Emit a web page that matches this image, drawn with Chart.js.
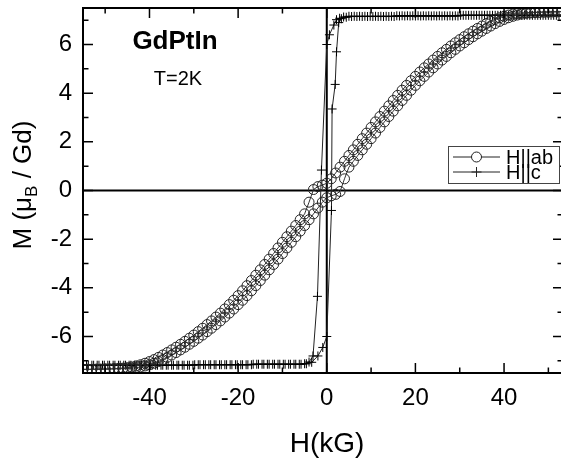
<!DOCTYPE html>
<html>
<head>
<meta charset="utf-8">
<script src="https://cdn.jsdelivr.net/npm/chart.js@4.4.0/dist/chart.umd.min.js"></script>
<style>
  html, body { margin: 0; padding: 0; background: #fff; overflow: hidden; }
  canvas { display: block; }
</style>
</head>
<body>
<canvas id="loop" width="563" height="459"></canvas>
<script>
// GdPtIn magnetisation loops at T = 2 K (field in kG, moment in muB per Gd)

// H || ab, field swept down from +53 kG to -55 kG
const fieldAbDown = [53,52,51,50,49,48,47,46,45,44,43,42,41,40,39,38,37,36,35,34,33,32,31,30,29,28,27,26,25,24,23,22,21,20,19,18,17,16,15,14,13,12,11,10,9,8,7,6,5,4,3,2,1,0,-1,-2,-3,-4,-5,-6,-7,-8,-9,-10,-11,-12,-13,-14,-15,-16,-17,-18,-19,-20,-21,-22,-23,-24,-25,-26,-27,-28,-29,-30,-31,-32,-33,-34,-35,-36,-37,-38,-39,-40,-41,-42,-43,-44,-45,-46,-47,-48,-49,-50,-51,-52,-53,-54,-55];
const momentAbDown = [7.35,7.35,7.35,7.34,7.34,7.33,7.33,7.32,7.31,7.30,7.28,7.25,7.21,7.16,7.10,7.03,6.95,6.86,6.76,6.66,6.55,6.44,6.32,6.20,6.07,5.94,5.80,5.66,5.51,5.36,5.20,5.04,4.87,4.69,4.51,4.32,4.12,3.91,3.70,3.48,3.26,3.04,2.82,2.59,2.36,2.13,1.90,1.67,1.44,1.20,0.96,0.72,0.48,0.30,0.22,0.16,0.04,-0.48,-0.96,-1.20,-1.44,-1.67,-1.90,-2.13,-2.36,-2.59,-2.82,-3.04,-3.26,-3.48,-3.70,-3.91,-4.12,-4.32,-4.51,-4.69,-4.87,-5.04,-5.20,-5.36,-5.51,-5.66,-5.80,-5.94,-6.07,-6.20,-6.32,-6.44,-6.55,-6.66,-6.76,-6.86,-6.95,-7.03,-7.10,-7.16,-7.21,-7.25,-7.28,-7.30,-7.31,-7.32,-7.33,-7.33,-7.34,-7.34,-7.35,-7.35,-7.35];

// H || ab, field swept back up from -55 kG to +53 kG
const fieldAbUp = [-55,-54,-53,-52,-51,-50,-49,-48,-47,-46,-45,-44,-43,-42,-41,-40,-39,-38,-37,-36,-35,-34,-33,-32,-31,-30,-29,-28,-27,-26,-25,-24,-23,-22,-21,-20,-19,-18,-17,-16,-15,-14,-13,-12,-11,-10,-9,-8,-7,-6,-5,-4,-3,-2,-1,0,1,2,3,4,5,6,7,8,9,10,11,12,13,14,15,16,17,18,19,20,21,22,23,24,25,26,27,28,29,30,31,32,33,34,35,36,37,38,39,40,41,42,43,44,45,46,47,48,49,50,51,52,53];
const momentAbUp = [-7.35,-7.35,-7.35,-7.35,-7.35,-7.34,-7.34,-7.33,-7.33,-7.32,-7.31,-7.30,-7.28,-7.25,-7.21,-7.16,-7.10,-7.03,-6.95,-6.86,-6.76,-6.66,-6.55,-6.44,-6.32,-6.20,-6.07,-5.94,-5.80,-5.66,-5.51,-5.36,-5.20,-5.04,-4.87,-4.69,-4.51,-4.32,-4.12,-3.91,-3.70,-3.48,-3.26,-3.04,-2.82,-2.59,-2.36,-2.13,-1.90,-1.67,-1.44,-1.20,-0.96,-0.72,-0.48,-0.30,-0.22,-0.16,-0.04,0.48,0.96,1.20,1.44,1.67,1.90,2.13,2.36,2.59,2.82,3.04,3.26,3.48,3.70,3.91,4.12,4.32,4.51,4.69,4.87,5.04,5.20,5.36,5.51,5.66,5.80,5.94,6.07,6.20,6.32,6.44,6.55,6.66,6.76,6.86,6.95,7.03,7.10,7.16,7.21,7.25,7.28,7.30,7.31,7.32,7.33,7.33,7.34,7.34,7.35];

// H || c, field swept down
const fieldCDown = [53.0,51.8,50.6,49.4,48.2,47.0,45.8,44.6,43.4,42.2,41.0,39.8,38.6,37.4,36.2,35.0,33.8,32.6,31.4,30.2,29.0,27.8,26.6,25.4,24.2,23.0,21.8,20.6,19.4,18.2,17.0,15.8,14.6,13.4,12.2,11.0,9.8,8.6,7.4,6.2,5.0,3.8,2.9,2.2,1.6,0.6,0.0,-1.2,-2.1,-3.1,-4.0,-5.0,-6.2,-7.4,-8.6,-9.8,-11.0,-12.2,-13.4,-14.6,-15.8,-17.0,-18.2,-19.4,-20.6,-21.8,-23.0,-24.2,-25.4,-26.6,-27.8,-29.0,-30.2,-31.4,-32.6,-33.8,-35.0,-36.2,-37.4,-38.6,-39.8,-41.0,-42.2,-43.4,-44.6,-45.8,-47.0,-48.2,-49.4,-50.6,-51.8,-53.0,-54.2,-55.4];
const momentCDown = [7.20,7.20,7.20,7.20,7.20,7.20,7.20,7.20,7.20,7.20,7.20,7.20,7.20,7.20,7.20,7.20,7.20,7.20,7.20,7.20,7.18,7.18,7.18,7.18,7.18,7.18,7.18,7.18,7.18,7.18,7.18,7.18,7.16,7.16,7.16,7.16,7.16,7.16,7.16,7.16,7.16,7.13,7.08,7.02,6.80,6.40,6.00,0.84,-4.35,-6.80,-7.05,-7.12,-7.14,-7.14,-7.14,-7.14,-7.14,-7.14,-7.14,-7.14,-7.14,-7.16,-7.16,-7.16,-7.16,-7.16,-7.16,-7.16,-7.16,-7.16,-7.16,-7.16,-7.18,-7.18,-7.18,-7.18,-7.18,-7.18,-7.18,-7.18,-7.18,-7.18,-7.18,-7.18,-7.18,-7.18,-7.18,-7.18,-7.18,-7.18,-7.18,-7.18,-7.18,-7.18];

// H || c, field swept up
const fieldCUp = [-55.0,-53.8,-52.6,-51.4,-50.2,-49.0,-47.8,-46.6,-45.4,-44.2,-43.0,-41.8,-40.6,-39.4,-38.2,-37.0,-35.8,-34.6,-33.4,-32.2,-31.0,-29.8,-28.6,-27.4,-26.2,-25.0,-23.8,-22.6,-21.4,-20.2,-19.0,-17.8,-16.6,-15.4,-14.2,-13.0,-11.8,-10.6,-9.4,-8.2,-7.0,-5.8,-4.6,-3.4,-2.0,-0.9,0.0,1.06,1.2,1.9,2.2,2.7,3.3,4.4,5.6,6.8,8.0,9.2,10.4,11.6,12.8,14.0,15.2,16.4,17.6,18.8,20.0,21.2,22.4,23.6,24.8,26.0,27.2,28.4,29.6,30.8,32.0,33.2,34.4,35.6,36.8,38.0,39.2,40.4,41.6,42.8,44.0,45.2,46.4,47.6,48.8,50.0,51.2,52.4,53.6];
const momentCUp = [-7.18,-7.18,-7.18,-7.18,-7.18,-7.18,-7.18,-7.18,-7.18,-7.18,-7.18,-7.18,-7.18,-7.18,-7.18,-7.18,-7.18,-7.18,-7.18,-7.18,-7.18,-7.16,-7.16,-7.16,-7.16,-7.16,-7.16,-7.16,-7.16,-7.16,-7.16,-7.16,-7.14,-7.14,-7.14,-7.14,-7.14,-7.14,-7.14,-7.14,-7.14,-7.14,-7.12,-7.06,-6.80,-6.45,-6.00,-0.82,3.35,4.36,5.70,6.90,7.06,7.12,7.15,7.15,7.15,7.15,7.15,7.15,7.15,7.15,7.15,7.17,7.17,7.17,7.17,7.17,7.17,7.17,7.17,7.17,7.17,7.17,7.17,7.20,7.20,7.20,7.20,7.20,7.20,7.20,7.20,7.20,7.20,7.20,7.20,7.20,7.20,7.20,7.20,7.20,7.20,7.20,7.20];

// axis ranges and tick positions
const fieldRange = [-55, 53.3];
const momentRange = [-7.5, 7.5];
const fieldMajorTicks = [-40, -20, 0, 20, 40];
const fieldMinorTicks = [-50, -30, -10, 10, 30, 50];
const momentMajorTicks = [-6, -4, -2, 0, 2, 4, 6];
const momentMinorTicks = [-7, -5, -3, -1, 1, 3, 5, 7];

const seriesLabels = ['H||ab', 'H||c'];
const sampleName = 'GdPtIn';
const temperatureLabel = 'T=2K';
const xTitle = 'H(kG)';

const FONT = '"Liberation Sans", Arial, Helvetica, sans-serif';

function pairs(xs, ys) { return xs.map((v, i) => ({ x: v, y: ys[i] })); }

// Frame, zero lines, inward ticks, titles, annotation and legend
const decorations = {
  id: 'decorations',
  beforeDatasetsDraw(chart) {
    const { ctx, chartArea: a, scales: { x, y } } = chart;
    ctx.save();
    ctx.strokeStyle = '#000';
    ctx.lineWidth = 2;
    const x0 = x.getPixelForValue(0), y0 = y.getPixelForValue(0);
    ctx.beginPath();
    ctx.moveTo(a.left, y0); ctx.lineTo(a.right, y0);
    ctx.moveTo(x0, a.top); ctx.lineTo(x0, a.bottom);
    ctx.stroke();
    ctx.restore();
  },
  afterDatasetsDraw(chart) {
    const { ctx, chartArea: a, scales: { x, y } } = chart;
    ctx.save();
    ctx.strokeStyle = '#000';
    ctx.lineWidth = 2;
    ctx.strokeRect(a.left, a.top, a.right - a.left, a.bottom - a.top);

    ctx.lineWidth = 1.5;
    ctx.beginPath();
    const xt = (list, len) => list.forEach(v => {
      const p = x.getPixelForValue(v);
      ctx.moveTo(p, a.bottom); ctx.lineTo(p, a.bottom - len);
      ctx.moveTo(p, a.top); ctx.lineTo(p, a.top + len);
    });
    const yt = (list, len) => list.forEach(v => {
      const p = y.getPixelForValue(v);
      ctx.moveTo(a.left, p); ctx.lineTo(a.left + len, p);
      ctx.moveTo(a.right, p); ctx.lineTo(a.right - len, p);
    });
    xt(fieldMajorTicks, 10); xt(fieldMinorTicks, 5.5);
    yt(momentMajorTicks, 10); yt(momentMinorTicks, 5.5);
    ctx.stroke();

    ctx.fillStyle = '#000';
    // sample name and temperature
    ctx.textAlign = 'center';
    ctx.textBaseline = 'alphabetic';
    ctx.font = 'bold 26px ' + FONT;
    ctx.fillText(sampleName, 175, 49);
    ctx.font = '20px ' + FONT;
    ctx.fillText(temperatureLabel, 178, 85);

    // x axis title
    ctx.font = '28px ' + FONT;
    ctx.fillText(xTitle, 327, 452);

    // y axis title with subscript B
    ctx.save();
    ctx.translate(31, 185);
    ctx.rotate(-Math.PI / 2);
    const big = '26px ' + FONT, small = '17px ' + FONT;
    const parts = [['M (\u03bc', big, 0], ['B', small, 6], [' / Gd)', big, 0]];
    let total = 0;
    parts.forEach(p => { ctx.font = p[1]; total += ctx.measureText(p[0]).width; });
    let cx = -total / 2;
    ctx.textAlign = 'left';
    parts.forEach(p => {
      ctx.font = p[1];
      ctx.fillText(p[0], cx, p[2]);
      cx += ctx.measureText(p[0]).width;
    });
    ctx.restore();

    // legend box
    const lx = 448, ly = 146, lw = 111, lh = 37;
    ctx.fillStyle = '#fff';
    ctx.fillRect(lx, ly, lw, lh);
    ctx.strokeStyle = '#444';
    ctx.lineWidth = 1;
    ctx.strokeRect(lx + 0.5, ly + 0.5, lw, lh);
    const rows = [ly + 11, ly + 26];
    ctx.strokeStyle = '#222';
    rows.forEach((ry, i) => {
      ctx.beginPath();
      ctx.moveTo(453, ry); ctx.lineTo(500, ry);
      ctx.stroke();
      ctx.beginPath();
      if (i === 0) {
        ctx.fillStyle = '#fff';
        ctx.arc(476.5, ry, 5, 0, Math.PI * 2);
        ctx.fill();
        ctx.stroke();
      } else {
        ctx.moveTo(471.5, ry); ctx.lineTo(481.5, ry);
        ctx.moveTo(476.5, ry - 5); ctx.lineTo(476.5, ry + 5);
        ctx.stroke();
      }
    });
    ctx.fillStyle = '#000';
    ctx.font = '20px ' + FONT;
    ctx.textAlign = 'left';
    ctx.textBaseline = 'middle';
    ctx.fillText(seriesLabels[0], 506, rows[0] + 1);
    ctx.fillText(seriesLabels[1], 506, rows[1] + 1);
    ctx.restore();
  }
};

new Chart(document.getElementById('loop'), {
  type: 'scatter',
  data: {
    datasets: [
      {
        label: seriesLabels[0],
        data: pairs(fieldAbDown, momentAbDown).concat(pairs(fieldAbUp, momentAbUp)),
        showLine: true,
        borderColor: '#333',
        borderWidth: 1,
        pointStyle: 'circle',
        pointRadius: 5,
        pointBorderWidth: 1,
        pointBorderColor: '#222',
        pointBackgroundColor: 'rgba(255,255,255,0)'
      },
      {
        label: seriesLabels[1],
        data: pairs(fieldCDown, momentCDown).concat(pairs(fieldCUp, momentCUp)),
        showLine: true,
        borderColor: '#222',
        borderWidth: 1,
        pointStyle: 'cross',
        pointRadius: 4.5,
        pointBorderWidth: 1,
        pointBorderColor: '#000'
      }
    ]
  },
  options: {
    responsive: false,
    devicePixelRatio: 1,
    animation: false,
    layout: { autoPadding: false, padding: { top: 8, right: 0, bottom: 0, left: 0 } },
    plugins: { legend: { display: false }, tooltip: { enabled: false } },
    elements: { line: { tension: 0 } },
    scales: {
      x: {
        type: 'linear',
        min: fieldRange[0],
        max: fieldRange[1],
        grid: { display: false, drawTicks: false, tickLength: 0 },
        border: { display: false },
        ticks: {
          stepSize: 20,
          includeBounds: false,
          padding: 11,
          color: '#000',
          font: { family: FONT, size: 24 }
        },
        afterFit(s) { s.height = 86; s.paddingLeft = 0; s.paddingRight = 0; }
      },
      y: {
        type: 'linear',
        min: momentRange[0],
        max: momentRange[1],
        grid: { display: false, drawTicks: false, tickLength: 0 },
        border: { display: false },
        ticks: {
          stepSize: 2,
          includeBounds: false,
          padding: 11,
          color: '#000',
          font: { family: FONT, size: 24 }
        },
        afterFit(s) { s.width = 83; s.paddingTop = 0; s.paddingBottom = 0; }
      }
    }
  },
  plugins: [decorations]
});
</script>
</body>
</html>
